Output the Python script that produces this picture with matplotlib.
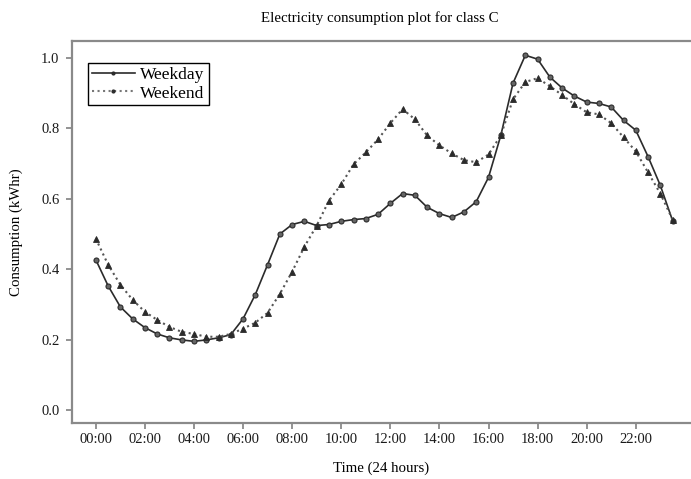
import numpy as np
import matplotlib
matplotlib.use("Agg")
import matplotlib.pyplot as plt

plt.rcParams['font.family'] = ['Liberation Serif', 'DejaVu Serif']

# half-hourly slots 00:00 .. 23:30
slots = np.arange(48)
tick_pos = np.arange(0, 48, 4)
tick_labels = ['00:00', '02:00', '04:00', '06:00', '08:00', '10:00',
               '12:00', '14:00', '16:00', '18:00', '20:00', '22:00']

weekday = [0.427, 0.353, 0.293, 0.259, 0.234, 0.216, 0.205, 0.199,
           0.195, 0.199, 0.205, 0.214, 0.259, 0.328, 0.413, 0.500,
           0.527, 0.536, 0.524, 0.527, 0.536, 0.541, 0.544, 0.556,
           0.587, 0.615, 0.610, 0.576, 0.558, 0.547, 0.563, 0.592,
           0.661, 0.780, 0.929, 1.008, 0.997, 0.946, 0.915, 0.892,
           0.875, 0.871, 0.861, 0.823, 0.795, 0.720, 0.638, 0.538]

weekend = [0.487, 0.413, 0.356, 0.313, 0.279, 0.256, 0.236, 0.222,
           0.216, 0.208, 0.208, 0.216, 0.231, 0.248, 0.276, 0.330,
           0.393, 0.464, 0.524, 0.595, 0.641, 0.698, 0.732, 0.769,
           0.815, 0.855, 0.826, 0.780, 0.752, 0.729, 0.710, 0.704,
           0.726, 0.780, 0.883, 0.932, 0.943, 0.920, 0.895, 0.869,
           0.846, 0.840, 0.815, 0.775, 0.735, 0.675, 0.615, 0.541]

fig = plt.figure(figsize=(6.91, 4.79), dpi=100)
ax = fig.add_axes([0.104, 0.117, 0.896, 0.797])

ax.plot(slots, weekday, color='#2b2b2b', linestyle='-', linewidth=1.2,
        marker='o', markersize=3.6, markerfacecolor='#666666',
        markeredgecolor='#2b2b2b', markeredgewidth=0.8)
ax.plot(slots, weekend, color='#555555', linestyle=':', linewidth=1.5,
        marker='^', markersize=4.2, markerfacecolor='#2b2b2b',
        markeredgecolor='#2b2b2b', markeredgewidth=0.6)

# legend uses small dots in the middle of each line
h1, = ax.plot([], [], color='#2b2b2b', linestyle='-', linewidth=1.2,
              marker='.', markersize=4)
h2, = ax.plot([], [], color='#777777', linestyle=':', linewidth=1.5,
              marker='.', markersize=4, markerfacecolor='#2b2b2b',
              markeredgecolor='#2b2b2b')
leg = ax.legend([h1, h2], ['Weekday', 'Weekend'], loc='upper left',
                bbox_to_anchor=(0.026, 0.942), fontsize=12.5, frameon=True,
                fancybox=False, edgecolor='black', framealpha=1,
                handlelength=2.5, handletextpad=0.3, borderpad=0.22,
                labelspacing=0.12, borderaxespad=0)
leg.get_frame().set_linewidth(1.0)

ax.set_xlim(-1.95, 48.5)
ax.set_ylim(-0.037, 1.048)
ax.set_xticks(tick_pos)
ax.set_xticklabels(tick_labels)
ax.set_yticks([0.0, 0.2, 0.4, 0.6, 0.8, 1.0])
ax.set_yticklabels(['0.0', '0.2', '0.4', '0.6', '0.8', '1.0'])
ax.tick_params(axis='both', labelsize=10.5, width=1.2, length=4,
               labelcolor='#1a1a1a', color='#808080')
ax.tick_params(axis='y', pad=5)

for side in ['left', 'bottom', 'top']:
    ax.spines[side].set_color('#8a8a8a')
    ax.spines[side].set_linewidth(1.6)
ax.spines['right'].set_visible(False)

ax.set_xlabel('Time (24 hours)', fontsize=10.7, labelpad=11)
ax.set_ylabel('Consumption (kWhr)', fontsize=10.7, labelpad=13)
fig.text(0.549, 0.962, 'Electricity consumption plot for class C',
         ha='center', va='center', fontsize=10.7)

fig.savefig('out.png', dpi=100)
